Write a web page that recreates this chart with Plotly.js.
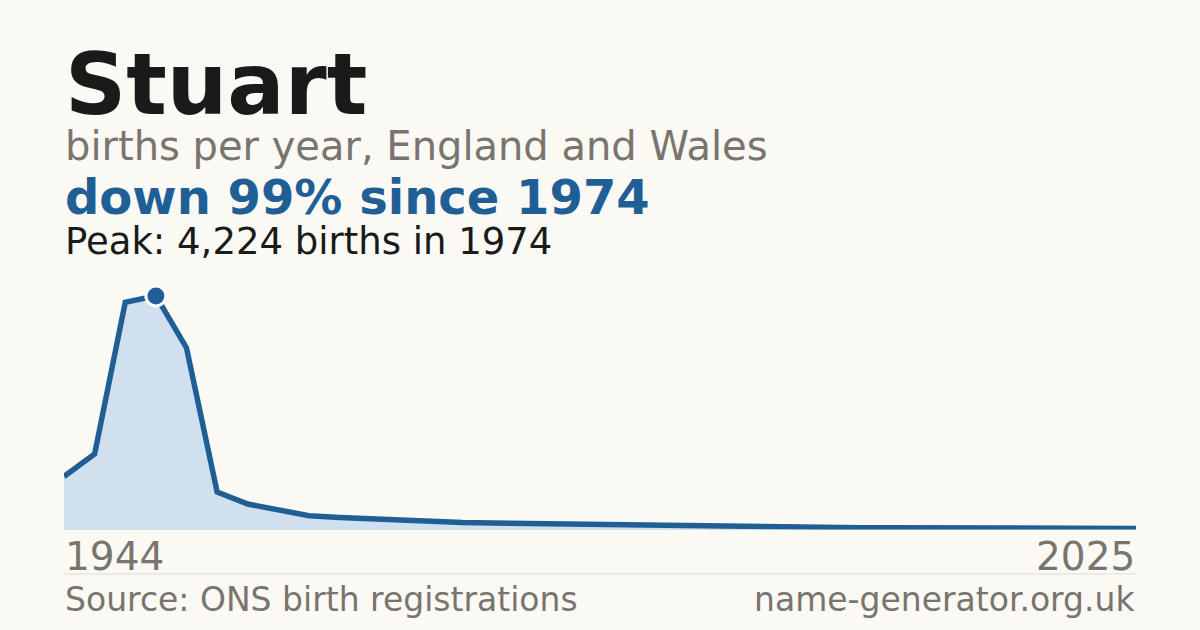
<!DOCTYPE html>
<html>
<head>
<meta charset="utf-8">
<script src="https://cdn.plot.ly/plotly-3.0.1.min.js"></script>
<style>
  html, body { margin: 0; padding: 0; background: #faf9f4; }
  #chart { width: 1200px; height: 630px; }
</style>
</head>
<body>
<div id="chart"></div>
<script>
// births per year for the name
var years = ['1944', '1954', '1964', '1974', '1984', '1994', '1996', '1997', '1998', '1999',
             '2000', '2001', '2002', '2003', '2004', '2005', '2006', '2007', '2008', '2009',
             '2010', '2011', '2012', '2013', '2014', '2015', '2016', '2017', '2018', '2019',
             '2020', '2021', '2022', '2023', '2024', '2025'];
var births = [966, 1372, 4110, 4224, 3285, 686, 469, 374, 258, 226,
              199, 171, 144, 135, 126, 117, 108, 99, 90, 81,
              72, 67, 63, 58, 54, 49, 42, 42, 41, 42,
              42, 41, 42, 41, 32, 27];

var name = 'Stuart';
var subtitle = 'births per year, England and Wales';
var source = 'Source: ONS birth registrations';
var site = 'name-generator.org.uk';

var peak = Math.max.apply(null, births);
var peakIdx = births.indexOf(peak);
var last = births[births.length - 1];
var drop = Math.round((1 - last / peak) * 100);

var blue = '#1f5f96';
var grey = '#79756e';
var font = 'DejaVu Sans, sans-serif';

var traces = [{
        x: years,
        y: births,
        type: 'scatter',
        mode: 'lines',
        fill: 'tozeroy',
        fillcolor: '#d0e0ef',
        line: { color: blue, width: 5.5 },
        hoverinfo: 'skip'
    },
    {
        x: [years[peakIdx]],
        y: [peak],
        type: 'scatter',
        mode: 'markers',
        marker: { color: blue, size: 20, line: { color: '#ffffff', width: 3 } },
        hoverinfo: 'skip'
    }
];

function note(text, x, y, size, color, opts) {
    var a = {
        text: text, x: x, y: y, xref: 'paper', yref: 'paper',
        xanchor: 'left', yanchor: 'top', showarrow: false, borderpad: 0,
        font: { family: font, size: size, color: color }
    };
    for (var k in opts) a[k] = opts[k];
    return a;
}

var layout = {
    width: 1200,
    height: 630,
    margin: { l: 64, r: 64, t: 280, b: 100, pad: 0 },
    paper_bgcolor: '#faf9f4',
    plot_bgcolor: '#faf9f4',
    showlegend: false,
    xaxis: { type: 'category', range: [0, years.length - 1], visible: false, fixedrange: true },
    yaxis: { range: [0, peak * 1.068], visible: false, fixedrange: true },
    shapes: [
        { type: 'line', xref: 'paper', yref: 'y', x0: 0, x1: 1, y0: 0, y1: 0,
          line: { color: '#dedbd3', width: 1 }, layer: 'above' },
        { type: 'line', xref: 'paper', yref: 'paper', x0: 0, x1: 1, y0: -0.176, y1: -0.176,
          line: { color: '#dedbd3', width: 1 } }
    ],
    annotations: [
        note('<b>' + name + '</b>', 0, 1.986, 85, '#1a1a1a'),
        note(subtitle, 0, 1.634, 40, grey),
        note('<b>down ' + drop + '% since ' + years[peakIdx] + '</b>', 0, 1.45, 48, blue),
        note('Peak: ' + peak.toLocaleString('en-GB') + ' births in ' + years[peakIdx], 0, 1.244, 37, '#1a1a1a'),
        note(years[0], 0, -0.011, 39, grey),
        note(years[years.length - 1], 1, -0.011, 39, grey, { xanchor: 'right' }),
        note(source, 0, -0.196, 33, grey),
        note(site, 1, -0.196, 33, grey, { xanchor: 'right' })
    ]
};

Plotly.newPlot('chart', traces, layout, { staticPlot: true, displayModeBar: false });
</script>
</body>
</html>
